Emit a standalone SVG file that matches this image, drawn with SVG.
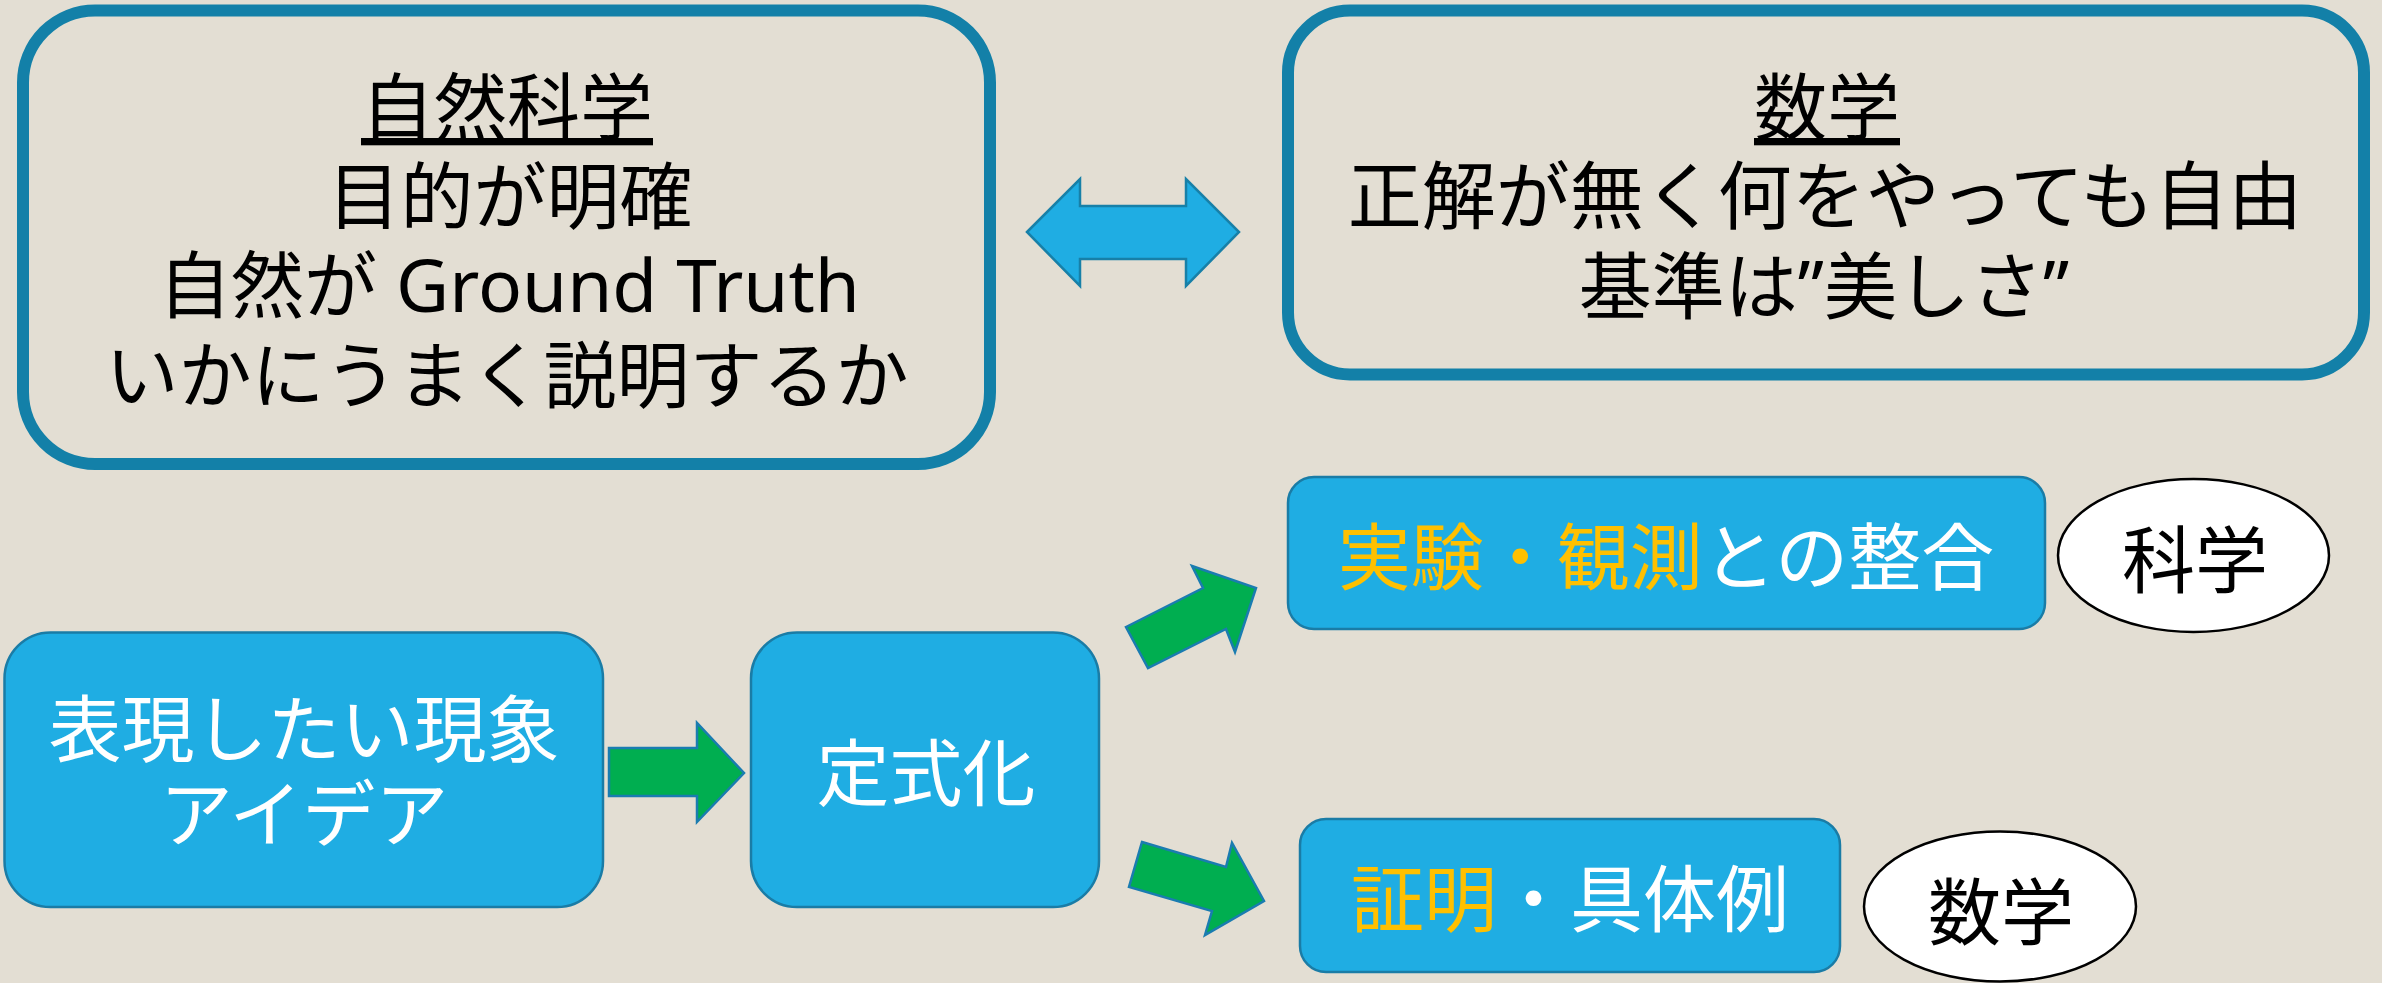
<svg xmlns="http://www.w3.org/2000/svg" width="2382" height="983" viewBox="0 0 2382 983">
<style>
.t{font-family:"Noto Sans","Noto Sans CJK JP",sans-serif;font-size:73px;text-anchor:middle}
.blk{fill:#000}
.wht{fill:#fff}
.gold{fill:#FFC000}
.frame{fill:none;stroke:#1380A8;stroke-width:12}
.blue{fill:#1FADE3;stroke:#1A7CA6;stroke-width:2.5}
.oval{fill:#fff;stroke:#000;stroke-width:2.5}
.green{fill:#00AE50;stroke:#1A7CB0;stroke-width:2.5;stroke-linejoin:miter}
</style>
<rect width="2382" height="983" fill="#E3DED3"/>
<g id="node-science">
<rect class="frame" x="23" y="10.5" width="967" height="453.5" rx="72" ry="72"/>
<text class="t blk"><tspan x="507" y="134" text-decoration="underline">自然科学</tspan><tspan x="510" y="223">目的が明確</tspan><tspan x="509" y="312">自然が Ground Truth</tspan><tspan x="507" y="402">いかにうまく説明するか</tspan></text>
</g>
<g id="node-math">
<rect class="frame" x="1288" y="10.5" width="1076" height="364" rx="62" ry="62"/>
<text class="t blk"><tspan x="1827" y="134" text-decoration="underline">数学</tspan><tspan x="1825" y="223" font-size="74">正解が無く何をやっても自由</tspan><tspan x="1824" y="313">基準は”美しさ”</tspan></text>
</g>
<g id="node-idea">
<rect class="blue" x="4.5" y="632.5" width="598.5" height="274.5" rx="46" ry="46"/>
<text class="t wht"><tspan x="304" y="756">表現したい現象</tspan><tspan x="304" y="841">アイデア</tspan></text>
</g>
<g id="node-formulate">
<rect class="blue" x="751" y="632.5" width="348" height="274.5" rx="46" ry="46"/>
<text class="t wht" x="926" y="800">定式化</text>
</g>
<g id="node-experiment">
<rect class="blue" x="1288" y="477" width="757" height="152" rx="26" ry="26"/>
<text class="t" x="1666" y="584"><tspan class="gold">実験・観測</tspan><tspan class="wht">との整合</tspan></text>
</g>
<g id="node-proof">
<rect class="blue" x="1300" y="819" width="540" height="153" rx="26" ry="26"/>
<text class="t" x="1570" y="926"><tspan class="gold">証明</tspan><tspan class="wht">・具体例</tspan></text>
</g>
<g id="node-label-science">
<ellipse class="oval" cx="2193.5" cy="555.5" rx="135.5" ry="76.5"/>
<text class="t blk" x="2195" y="587">科学</text>
</g>
<g id="node-label-math">
<ellipse class="oval" cx="2000" cy="906.5" rx="136" ry="75"/>
<text class="t blk" x="2001" y="939">数学</text>
</g>
<g id="connectors">
<polygon fill="#1FADE3" stroke="#1780A8" stroke-width="2.5" points="1027,232 1080,179 1080,206 1186,206 1186,179 1239,232 1186,286 1186,259 1080,259 1080,286"/>
<polygon class="green" points="609,748 697,748 697,723 744,773 697,822 697,796 609,796"/>
<polygon class="green" points="1126,627 1203,588 1192,566 1256,588 1235,652 1226,629 1148,668"/>
<polygon class="green" points="1142,842 1226,867 1232,843 1264,901 1205,935 1212,911 1129,887"/>
</g>
</svg>
